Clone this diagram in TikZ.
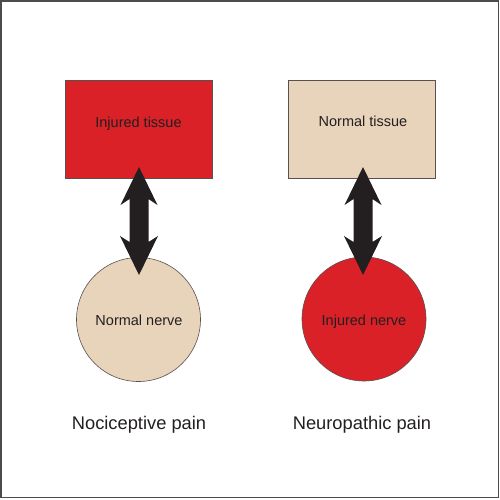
\documentclass[tikz,border=0pt]{standalone}
\usepackage{fontspec}
\setmainfont{Liberation Sans}
\definecolor{injred}{HTML}{DA2128}
\definecolor{beige}{HTML}{E8D4BA}
\definecolor{txt}{HTML}{231F20}
\definecolor{edge}{HTML}{5A5050}
\tikzset{
  tissuebox/.style={draw=edge, line width=0.6pt, minimum width=147pt, minimum height=98pt, inner sep=0pt},
  nervecirc/.style={draw=edge, line width=0.6pt, circle, minimum size=124pt, inner sep=0pt},
  boxtext/.style={text=txt, font=\fontsize{14.5}{16}\selectfont, inner sep=0pt, text height=10.5pt, text depth=3pt},
  painlabel/.style={text=txt, font=\fontsize{18.3}{20}\selectfont},
  dblarrow/.style={fill=txt, draw=none}
}
\newcommand{\dblarrowshape}[1]{%
  \fill[dblarrow] (#1,167) -- (#1+18.5,205) -- (#1+9.5,199) -- (#1+9.5,242)
    -- (#1+19,236) -- (#1,275) -- (#1-19,236) -- (#1-9.5,242)
    -- (#1-9.5,199) -- (#1-18.5,205) -- cycle;}
\begin{document}
\begin{tikzpicture}[x=1pt,y=-1pt]
  \useasboundingbox (0,0) rectangle (500,499);
  \draw[line width=1.5pt, draw=black!70] (1,1) rectangle (498.5,497.5);
  % left panel
  \node[tissuebox, fill=injred] (lt) at (138.5,129) {};
  \node[boxtext] (ltx) at (138.5,124) {Injured tissue};
  \node[nervecirc, fill=beige] (ln) at (138.5,319.5) {};
  \node[boxtext] (lnx) at (139,322) {Normal nerve};
  \node[painlabel] (lp) at (139,425) {Nociceptive pain};
  % right panel
  \node[tissuebox, fill=beige] (rt) at (362,129) {};
  \node[boxtext] (rtx) at (363,123) {Normal tissue};
  \node[nervecirc, fill=injred] (rn) at (364,319) {};
  \node[boxtext] (rnx) at (364,322) {Injured nerve};
  \node[painlabel] (rp) at (362,425) {Neuropathic pain};
  % arrows
  \dblarrowshape{139}
  \dblarrowshape{363}
\end{tikzpicture}
\end{document}
